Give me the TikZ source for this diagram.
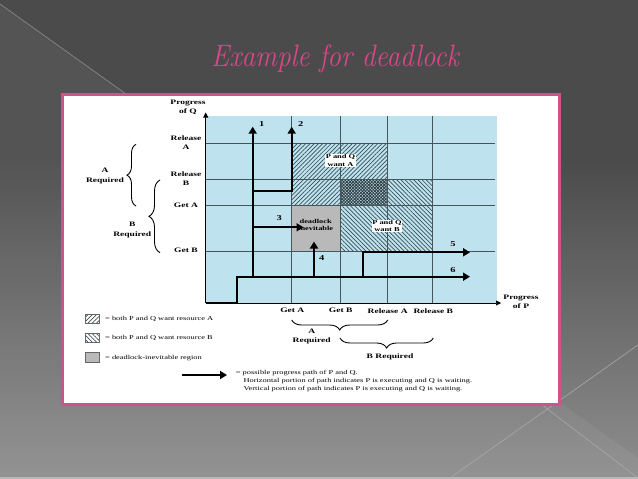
\documentclass[tikz,border=0pt]{standalone}
\usepackage{fontspec}
\usetikzlibrary{patterns.meta,decorations.pathreplacing,arrows.meta}
\newfontfamily\dfont[FakeStretch=1.4]{Liberation Serif}
\definecolor{bgdark}{HTML}{4B4B4B}
\definecolor{bgmid}{HTML}{5A5A5A}
\definecolor{bglight}{HTML}{8E8E8E}
\definecolor{linec}{HTML}{A9A9A9}
\definecolor{stripc}{HTML}{B8B8B8}
\definecolor{pinkb}{HTML}{D4508A}
\definecolor{titlepink}{HTML}{D9478A}
\definecolor{chartblue}{HTML}{BEE3EE}
\definecolor{gridc}{HTML}{44555B}
\definecolor{deadgray}{HTML}{B9B9B9}
\definecolor{hatchc}{HTML}{3C4E55}
\tikzset{
  lbl/.style={font=\dfont\bfseries\fontsize{6.8}{9.2}\selectfont, align=center, inner sep=0pt},
  inlbl/.style={font=\dfont\bfseries\fontsize{6}{7.5}\selectfont, align=center, inner sep=0.6pt},
  numlbl/.style={font=\dfont\bfseries\fontsize{7.5}{8}\selectfont, inner sep=0pt},
  leg/.style={font=\dfont\fontsize{6}{8}\selectfont, anchor=west, inner sep=0pt},
  gridline/.style={draw=gridc, line width=0.55pt},
  patharrow/.style={line width=1.8pt, -{Triangle[length=7pt,width=8pt]}},
  axisarrow/.style={line width=0.6pt, -{Triangle[length=5pt,width=5pt]}},
  hatchA/.style={pattern={Lines[angle=45,distance=3pt,line width=0.7pt]}, pattern color=hatchc},
  hatchB/.style={pattern={Lines[angle=-45,distance=3pt,line width=0.7pt]}, pattern color=hatchc},
  hatchAd/.style={pattern={Lines[angle=45,distance=2.2pt,line width=0.9pt]}, pattern color=hatchc!80!black},
  hatchBd/.style={pattern={Lines[angle=-45,distance=2.2pt,line width=0.9pt]}, pattern color=hatchc!80!black},
  bracedec/.style={decorate, decoration={brace, amplitude=#1}, line width=0.9pt},
  legbox/.style={draw=gray!80!black, line width=0.5pt},
}
\begin{document}
\begin{tikzpicture}[x=1pt,y=-1pt]
\useasboundingbox (0,0) rectangle (638,479);
% ---------- slide background ----------
\fill[bgdark] (0,0) rectangle (638,160);
\shade[top color=bgdark, bottom color=bglight] (0,159) rectangle (638,479);
\fill[white, opacity=0.05] (0,4) -- (638,458) -- (638,479) -- (0,479) -- cycle;
\draw[gray!90!white, line width=0.6pt] (0,4) -- (140,104);
\draw[linec, line width=0.6pt] (638,345) -- (451.7,476.7);
\draw[linec, line width=0.6pt] (470,350) -- (638,478);
\fill[stripc] (0,477) rectangle (638,479);
% ---------- title ----------
\node[font=\itshape\fontsize{31}{31}\selectfont, text=titlepink, anchor=base, inner sep=0pt] (title) at (335,66) {\scalebox{0.88}[1]{Example for deadlock}};
% ---------- panel ----------
\draw[pinkb, line width=2.2pt, fill=white] (62.5,94.5) rectangle (559.5,404.5);
% ---------- chart area ----------
\fill[chartblue] (205.7,116) rectangle (496.7,303);
\fill[hatchA] (291.7,143.3) rectangle (387.3,205.5);
\fill[hatchB] (340,179.3) rectangle (432.7,251.5);
\fill[chartblue] (340,179.3) rectangle (387.3,205.5);
\fill[hatchAd] (340,179.3) rectangle (387.3,205.5);
\fill[hatchBd] (340,179.3) rectangle (387.3,205.5);
\fill[deadgray] (291.7,205.5) rectangle (340,251.5);
% grid
\foreach \yy in {143.3,179.3,205.5,251.5} \draw[gridline] (205.7,\yy) -- (495,\yy);
\foreach \xx in {291.7,340,387.3,432.7} \draw[gridline] (\xx,116) -- (\xx,303);
% axes
\coordinate (O) at (205.7,303);
\coordinate (yend) at (205.7,112.5);
\coordinate (xend) at (501,303);
\draw[axisarrow] (O) -- (yend);
\draw[axisarrow] (O) -- (xend);
% region labels
\node[inlbl, fill=white] (wantA) at (340.5,160.3) {P and Q\\want A};
\node[inlbl, fill=white] (wantB) at (387,226) {P and Q\\want B};
\node[inlbl] (dead) at (315.7,225) {deadlock\\inevitable};
% ---------- progress paths ----------
\coordinate (s1) at (236.7,303);
\coordinate (s2) at (236.7,276.7);
\coordinate (e6) at (470,276.7);
\coordinate (p1a) at (252.7,276.7);
\coordinate (p1b) at (252.7,126.7);
\coordinate (p2a) at (252.7,190.7);
\coordinate (p2b) at (291.7,190.7);
\coordinate (p2c) at (291.7,126.7);
\coordinate (p3a) at (252.7,227.3);
\coordinate (p3b) at (303.5,227.3);
\coordinate (p4a) at (314,276.7);
\coordinate (p4b) at (314,241.5);
\coordinate (p5a) at (363.3,276.7);
\coordinate (p5b) at (363.3,252.3);
\coordinate (p5c) at (470,252.3);
\draw[patharrow] (O) -- (s1) -- (s2) -- (e6);
\draw[patharrow] (p1a) -- (p1b);
\draw[patharrow] (p2a) -- (p2b) -- (p2c);
\draw[patharrow] (p3a) -- (p3b);
\draw[patharrow] (p4a) -- (p4b);
\draw[patharrow] (p5a) -- (p5b) -- (p5c);
\node[numlbl] (n1) at (261.7,124.3) {1};
\node[numlbl] (n2) at (300.7,124) {2};
\node[numlbl] (n3) at (279.3,217.7) {3};
\node[numlbl] (n4) at (321.7,257.7) {4};
\node[numlbl] (n5) at (453,244) {5};
\node[numlbl] (n6) at (453,270) {6};
% ---------- axis labels ----------
\node[lbl] (pq) at (188,107.5) {Progress\\of Q};
\node[lbl] (relA) at (186,143) {Release\\A};
\node[lbl] (relB) at (186,179) {Release\\B};
\node[lbl] (getA) at (186,205.3) {Get A};
\node[lbl] (getB) at (186,250.7) {Get B};
\node[lbl] (pp) at (521,302) {Progress\\of P};
\node[lbl] (xgetA) at (292.3,310.7) {Get A};
\node[lbl] (xgetB) at (340.7,310.7) {Get B};
\node[lbl] (xrelA) at (387.7,310.7) {Release A};
\node[lbl] (xrelB) at (433.3,310.7) {Release B};
% ---------- braces ----------
\draw[bracedec=9pt] (136,206) -- (136,144.3);
\draw[bracedec=11pt] (160,252.7) -- (160,180);
\draw[bracedec=10pt] (387.7,320) -- (291.7,320);
\draw[bracedec=10pt] (433.3,338) -- (340,338);
\node[lbl] (reqA) at (105,176) {A\\Required};
\node[lbl] (reqB) at (132.3,230) {B\\Required};
\node[lbl] (xreqA) at (311.7,336.2) {A\\Required};
\node[lbl] (xreqB) at (390,356.7) {B Required};
% ---------- legend ----------
\fill[white] (85,314.3) rectangle (99,323.7);
\fill[hatchA] (85,314.3) rectangle (99,323.7);
\draw[legbox] (85,314.3) rectangle (99,323.7);
\fill[white] (85,333) rectangle (99,342.7);
\fill[hatchB] (85,333) rectangle (99,342.7);
\draw[legbox] (85,333) rectangle (99,342.7);
\draw[legbox, fill=deadgray] (85,352.7) rectangle (99,362.7);
\node[leg] (lg1) at (105,318.5) {= both P and Q want resource A};
\node[leg] (lg2) at (105,337.7) {= both P and Q want resource B};
\node[leg] (lg3) at (105,357.7) {= deadlock-inevitable region};
\coordinate (la) at (181.7,375);
\coordinate (lb) at (227,375);
\draw[patharrow] (la) -- (lb);
\node[leg] (lg4) at (235.7,373.5) {= possible progress path of P and Q.};
\node[leg] (lg5) at (243.3,381.5) {Horizontal portion of path indicates P is executing and Q is waiting.};
\node[leg] (lg6) at (243.3,389.5) {Vertical portion of path indicates P is executing and Q is waiting.};
\end{tikzpicture}
\end{document}
